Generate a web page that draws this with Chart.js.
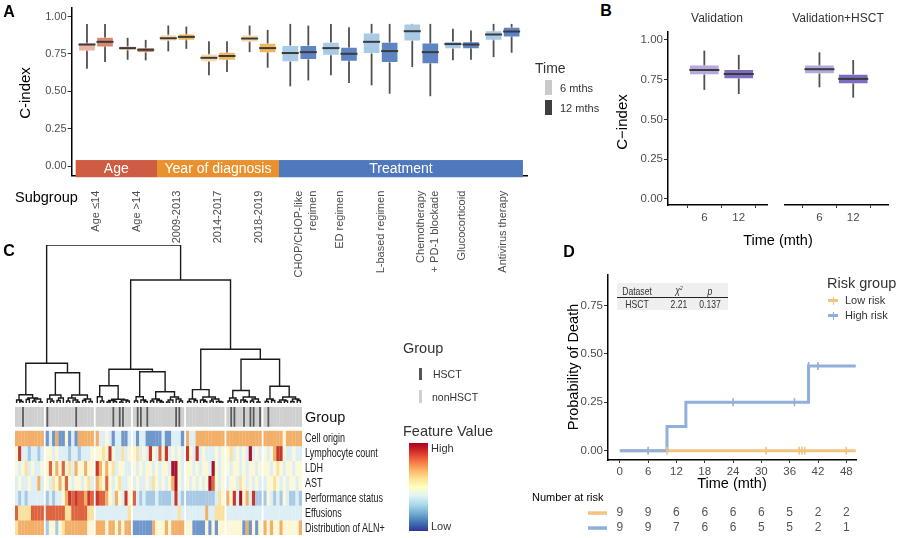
<!DOCTYPE html>
<html><head><meta charset="utf-8">
<script src="https://cdn.jsdelivr.net/npm/chart.js@4/dist/chart.umd.min.js"></script>
<style>
body{margin:0;background:#fff;}
#wrap{position:relative;width:900px;height:538px;overflow:hidden;font-family:"Liberation Sans",Arial,sans-serif;color:#222;background:#fff;}
canvas{position:absolute;}
.t{position:absolute;white-space:nowrap;line-height:1;}
.c{transform:translate(-50%,-50%);}
.l{transform:translate(0,-50%);}
.r90{transform:translate(-50%,-50%) rotate(-90deg);}
.box{position:absolute;}
.let{font-weight:bold;font-size:16px;color:#000;}
.hl{font-size:12px;color:#222;transform-origin:0 50%;transform:translate(0,-50%) scaleX(0.75);}
.tb{font-size:10.5px;color:#333;transform:translate(-50%,-50%) scaleX(0.82);}
</style></head>
<body><div id="wrap">
<canvas id="cA" width="530" height="280" style="left:0;top:0"></canvas>
<canvas id="cB1" width="170" height="210" style="left:600px;top:20px"></canvas>
<canvas id="cB2" width="120" height="210" style="left:775px;top:20px"></canvas>
<canvas id="cDen" width="397" height="162" style="left:15px;top:243px"></canvas>
<canvas id="cHeat" width="397" height="128" style="left:15px;top:407px"></canvas>
<canvas id="cD" width="380" height="298" style="left:520px;top:240px"></canvas>

<!-- panel letters -->
<div class="t c let" style="left:9px;top:12px">A</div>
<div class="t c let" style="left:606px;top:11px">B</div>
<div class="t c let" style="left:9px;top:251px">C</div>
<div class="t c let" style="left:569px;top:252px">D</div>

<!-- A texts -->
<div class="t r90" style="left:24px;top:93px;font-size:15px;color:#000">C-index</div>
<div class="t l" style="left:15px;top:197px;font-size:14.5px;color:#000">Subgroup</div>
<div class="t l" style="left:535px;top:68px;font-size:14px;color:#333">Time</div>
<div class="box" style="left:545px;top:80px;width:7px;height:15px;background:#C9C9C9"></div>
<div class="box" style="left:545px;top:100px;width:7px;height:15px;background:#3F3F3F"></div>
<div class="t l" style="left:560px;top:88px;font-size:11px;color:#333">6 mths</div>
<div class="t l" style="left:560px;top:108px;font-size:11px;color:#333">12 mths</div>

<!-- B texts -->
<div class="t c" style="left:717px;top:18px;font-size:12px;color:#333">Validation</div>
<div class="t c" style="left:838px;top:18px;font-size:12px;color:#333">Validation+HSCT</div>
<div class="t r90" style="left:621px;top:122px;font-size:15px;color:#000">C−index</div>
<div class="t c" style="left:778px;top:240px;font-size:14.5px;color:#000">Time (mth)</div>

<!-- C legends -->
<div class="t l" style="left:305px;top:417px;font-size:14.5px;color:#111">Group</div>
<div class="t l" style="left:403px;top:348px;font-size:14.5px;color:#333">Group</div>
<div class="box" style="left:419px;top:368px;width:3px;height:12px;background:#555"></div>
<div class="t l" style="left:433px;top:374px;font-size:10.5px;color:#333">HSCT</div>
<div class="box" style="left:419px;top:390px;width:3px;height:13px;background:#D0D0D0"></div>
<div class="t l" style="left:432px;top:397px;font-size:10.5px;color:#333">nonHSCT</div>
<div class="t l" style="left:403px;top:431px;font-size:14.5px;color:#333">Feature Value</div>
<div class="box" style="left:409px;top:443px;width:19px;height:88px;background:linear-gradient(to bottom,#A50026,#D73027,#F46D43,#FDAE61,#FEE090,#FFFFBF,#E0F3F8,#ABD9E9,#74ADD1,#4575B4,#313695)"></div>
<div class="t l" style="left:431px;top:448px;font-size:11px;color:#333">High</div>
<div class="t l" style="left:431px;top:526px;font-size:11px;color:#333">Low</div>

<!-- D texts -->
<div class="t r90" style="left:573px;top:367px;font-size:14.5px;color:#000">Probability of Death</div>
<div class="t c" style="left:732px;top:483px;font-size:14.5px;color:#000">Time (mth)</div>
<div class="t l" style="left:532px;top:497px;font-size:11px;color:#000">Number at risk</div>
<div class="t l" style="left:827px;top:283px;font-size:14.5px;color:#333">Risk group</div>
<div class="box" style="left:828px;top:299px;width:10px;height:2.5px;background:#F3C47D"></div>
<div class="box" style="left:832.5px;top:296.5px;width:1.2px;height:8px;background:#F3C47D"></div>
<div class="t l" style="left:845px;top:300px;font-size:11px;color:#333">Low risk</div>
<div class="box" style="left:828px;top:314px;width:10px;height:2.5px;background:#8FB0DC"></div>
<div class="box" style="left:832.5px;top:311.5px;width:1.2px;height:8px;background:#8FB0DC"></div>
<div class="t l" style="left:845px;top:315px;font-size:11px;color:#333">High risk</div>
<div class="box" style="left:617px;top:283px;width:111px;height:27px;background:#EFEFEF"></div>
<div class="box" style="left:617px;top:297px;width:111px;height:1px;background:#222"></div>
<div class="t tb" style="left:637px;top:290.5px">Dataset</div>
<div class="t tb" style="left:679px;top:290px;font-style:italic">χ<sup style="font-size:6px">2</sup></div>
<div class="t tb" style="left:710px;top:290.5px;font-style:italic">p</div>
<div class="t tb" style="left:637px;top:304px">HSCT</div>
<div class="t tb" style="left:679px;top:304px">2.21</div>
<div class="t tb" style="left:710px;top:304px">0.137</div>
</div>
<script>
// ---------------- DATA ----------------
// Panel A
const subgroups = [['Age ≤14'],['Age >14'],['2009-2013'],['2014-2017'],['2018-2019'],['CHOP/CHOP-like','regimen'],['ED regimen'],['L-based regimen'],['Chemotherapy','+ PD-1 blockade'],['Glucocorticoid'],['Antivirus therapy']];
const subgroupType = ['age','age','year','year','year','trt','trt','trt','trt','trt','trt'];
const stripLabels = ['Age','Year of diagnosis','Treatment'];
const stripFirst = [1,3,6];
const stripLast = [2,5,11];
const cTicks = [0,0.25,0.5,0.75,1];
const min6 = [0.651,0.711,0.767,0.607,0.762,0.533,0.607,0.540,0.662,0.707,0.729];
const q1_6 = [0.769,0.773,0.835,0.696,0.829,0.696,0.740,0.751,0.835,0.784,0.840];
const med6 = [0.813,0.789,0.855,0.724,0.853,0.756,0.789,0.831,0.902,0.816,0.880];
const q3_6 = [0.824,0.802,0.880,0.751,0.878,0.807,0.829,0.891,0.951,0.835,0.907];
const max6 = [0.951,0.858,0.940,0.835,0.940,0.951,0.951,0.951,0.951,0.918,0.951];
const min12 = [0.696,0.707,0.784,0.629,0.658,0.573,0.555,0.484,0.467,0.711,0.758];
const q1_12 = [0.796,0.758,0.840,0.707,0.756,0.711,0.700,0.691,0.684,0.784,0.862];
const med12 = [0.831,0.778,0.864,0.736,0.789,0.762,0.751,0.769,0.762,0.813,0.900];
const q3_12 = [0.862,0.793,0.884,0.762,0.822,0.807,0.796,0.829,0.824,0.833,0.929];
const max12 = [0.951,0.844,0.933,0.835,0.911,0.940,0.929,0.951,0.951,0.907,0.951];

// Panel B
const timeLabels = ['6','12'];
const valMin = [0.686,0.660], valQ1 = [0.780,0.755], valMed = [0.811,0.786], valQ3 = [0.843,0.816], valMax = [0.933,0.906];
const vhMin = [0.702,0.637], vhQ1 = [0.786,0.723], vhMed = [0.816,0.755], vhQ3 = [0.843,0.786], vhMax = [0.922,0.874];

// Panel C
const clusterSizes = [9,15,11,16,12,11,12];
const featureNames = ['Cell origin','Lymphocyte count','LDH','AST','Performance status','Effusions','Distribution of ALN+'];
const cellOrigin = [7,7,7,7,7,7,7,7,7,
 2,4,2,7,2,2,5,2,4,2,7,7,7,7,7,
 7,4,4,5,4,2,4,4,2,2,4,
 4,2,4,4,2,2,2,2,2,4,2,2,4,4,4,2,
 7,4,4,7,7,7,7,7,7,7,7,7,
 7,7,7,7,7,7,7,7,7,7,7,
 7,7,7,7,7,7,5,7,7,7,7,7];
const lymphocyte = [5,9,4,4,3,4,4,3,4,
 5,5,4,5,4,4,4,3,4,4,3,4,4,4,5,
 5,5,6,5,9,5,4,4,6,4,5,
 5,6,4,5,4,9,5,4,8,5,9,4,5,4,5,4,
 9,5,4,9,4,5,4,4,4,5,4,5,
 5,6,4,5,4,5,4,10,4,5,4,
 5,4,5,7,9,9,5,4,4,5,4,4];
const ldh = [5,4,5,6,4,5,4,4,5,
 5,8,5,7,5,8,5,6,4,7,5,5,7,5,5,
 9,7,5,7,5,6,4,5,5,4,4,
 5,4,5,4,5,5,4,5,4,5,5,4,10,10,5,4,
 5,5,4,5,4,5,5,4,10,5,4,5,
 5,4,5,5,4,5,4,5,5,4,5,
 5,5,4,5,6,5,4,5,5,4,5,5];
const ast = [4,5,4,4,5,4,4,7,4,
 5,4,6,5,7,5,8,5,4,5,5,4,5,6,4,
 7,6,5,8,5,4,5,6,4,4,5,
 4,5,4,4,5,4,6,5,4,5,4,5,7,10,5,4,
 5,4,5,4,5,4,5,10,8,5,4,5,
 4,5,5,4,6,5,4,5,4,5,4,
 4,5,5,6,5,4,5,4,5,5,4,5];
const performance = [4,3,4,3,4,4,4,4,4,
 3,4,3,4,4,5,7,9,8,9,8,8,7,9,8,
 9,8,8,7,5,4,7,5,4,9,5,
 8,4,3,4,3,3,3,4,3,3,3,3,4,9,4,3,
 3,3,3,3,3,3,3,3,3,4,6,5,
 7,5,9,4,10,5,7,4,9,3,3,
 3,5,4,3,4,3,5,4,3,3,4,3];
const effusions = [8,6,6,6,6,8,8,8,8,
 8,8,8,8,8,8,6,6,8,8,8,8,8,6,6,
 4,4,4,4,4,4,4,4,4,4,6,
 4,4,4,4,4,4,4,4,4,4,4,4,4,4,6,4,
 4,4,4,4,4,4,7,4,4,6,6,6,
 4,4,4,4,4,4,4,4,4,4,4,
 4,4,4,4,4,4,4,4,4,4,4,4];
const alnDistribution = [6,7,7,7,7,7,7,7,7,
 3,5,5,3,5,6,7,7,7,7,7,7,7,5,5,
 7,7,7,5,7,7,5,7,5,7,7,
 2,2,2,2,2,2,7,5,5,5,7,5,7,7,7,7,
 5,5,2,2,2,2,5,2,5,2,5,5,
 5,5,5,5,5,2,7,2,5,2,5,
 7,5,7,5,5,7,5,5,5,5,5,7];
const groupHSCT = [0,0,1,0,0,0,0,0,0,
 1,0,0,0,0,0,0,0,0,1,0,0,0,0,0,
 0,0,0,0,0,1,0,1,1,0,0,
 0,1,1,0,1,0,0,0,0,0,0,0,0,1,1,0,
 0,0,0,0,0,0,0,0,0,0,0,0,
 0,1,1,0,0,1,0,1,1,0,1,
 0,1,0,0,0,0,0,0,0,0,0,0];
// dendrogram: [mergeHeight, left, right], 0 = leaf
const dendroTree = [158,
  [39.7,
    [8.3, [3,0,[1.5,0,0]], [5,[3.5,0,0],[4,[2,0,0],[1,0,0]]]],
    [30.3, [8,[4,0,[2,0,0]],[5,[2.5,0,0],0]], [8,[5,[2,0,0],[3,0,[1,0,0]]],[4,[2.5,0,0],[1.5,0,0]]]]],
  [123,
    [33.7,
      [17.2, [6.3,0,[2,0,0]], [3.7,[2.5,[1,0,0],[1.5,0,0]],[3,[1,0,0],[2,0,0]]]],
      [31.3, [6.3,[2,0,0],[3,0,[1.5,0,0]]], [11.3,[4,[2,0,0],[2.5,0,[1,0,0]]],[6,[3,[1,0,0],0],[4,0,[2,0,0]]]]]],
    [53.7,
      [13.4, [4,[1.5,0,0],[2.5,0,0]], [6,[3,0,[1.5,0,0]],[4,[2,0,0],[1.5,0,[1,0,0]]]]],
      [43.7,
        [12.5, [5,[2,0,0],[3,0,0]], [6,[3,0,[1.5,0,0]],[4,[2,0,0],[1,0,0]]]],
        [16.7, [4,[1.5,0,0],[2.5,0,0]], [6,[3,[1,0,0],[2,0,0]],[4,[1.5,0,0],[2.5,0,0]]]]]]]];

// Panel D
const kmHighT = [0,10,14,40,50], kmHighS = [0,0.125,0.25,0.4375,0.4375];
const kmLowT = [0,50], kmLowS = [0,0];
const censorHighT = [6,24,37,40,42], censorHighS = [0,0.25,0.25,0.4375,0.4375];
const censorLowT = [10,31,38,38.6,39.2,48], censorLowS = [0,0,0,0,0,0];
const riskTimes = [0,6,12,18,24,30,36,42,48];
const riskLow = [9,9,6,6,6,6,5,2,2];
const riskHigh = [9,9,7,6,6,5,5,2,1];
const probTicks = [0,0.25,0.5,0.75];

// ---------------- STYLE ----------------
Chart.defaults.animation = false;
Chart.defaults.font.family = '"Liberation Sans", Arial, sans-serif';
Chart.defaults.color = '#4d4d4d';
Chart.defaults.plugins.legend.display = false;
Chart.defaults.plugins.tooltip.enabled = false;
const col6 = {age:'#EBB3A2', year:'#F9DAA8', trt:'#A8CAE6'};
const col12 = {age:'#DA8670', year:'#F1B75C', trt:'#5E84C4'};
const stripColors = ['#CD5C42','#E8912F','#5078BD'];
const heatPalette = ['#313695','#4575B4','#6F97CC','#A8C9E4','#DDEFF5','#FCF8D6','#FBE1A0','#F2AF69','#DE6440','#C8372C','#A5142D'];
const tickFont = {size:11};

const boxPlugin = {
  id:'boxWhisker',
  beforeDatasetsDraw(chart){
    const ctx = chart.ctx, ys = chart.scales.y;
    chart.data.datasets.forEach((ds,i)=>{
      if(!ds.whisk) return;
      chart.getDatasetMeta(i).data.forEach((el,j)=>{
        ctx.save(); ctx.strokeStyle='#505050'; ctx.lineWidth=1.8;
        ctx.beginPath(); ctx.moveTo(el.x, ys.getPixelForValue(ds.whisk.lo[j])); ctx.lineTo(el.x, ys.getPixelForValue(ds.whisk.hi[j])); ctx.stroke(); ctx.restore();
      });
    });
  },
  afterDatasetsDraw(chart){
    const ctx = chart.ctx, ys = chart.scales.y;
    chart.data.datasets.forEach((ds,i)=>{
      if(!ds.whisk) return;
      chart.getDatasetMeta(i).data.forEach((el,j)=>{
        const ym = ys.getPixelForValue(ds.whisk.med[j]);
        ctx.save(); ctx.strokeStyle='#3a3a3a'; ctx.lineWidth=2;
        ctx.beginPath(); ctx.moveTo(el.x-el.width/2, ym); ctx.lineTo(el.x+el.width/2, ym); ctx.stroke(); ctx.restore();
      });
    });
  }
};
const stripPlugin = {
  id:'strip',
  beforeDatasetsDraw(chart){
    const {ctx, chartArea} = chart, xs = chart.scales.x, ys = chart.scales.y;
    stripLabels.forEach((lab,k)=>{
      const x0 = xs.getPixelForValue(stripFirst[k]-0.5), x1 = xs.getPixelForValue(stripLast[k]+0.5);
      const y0 = ys.getPixelForValue(0.04), y1 = chartArea.bottom+1.5;
      ctx.save(); ctx.fillStyle = stripColors[k]; ctx.fillRect(x0,y0,x1-x0,y1-y0);
      ctx.fillStyle='#fff'; ctx.font='14px "Liberation Sans", Arial, sans-serif'; ctx.textAlign='center'; ctx.textBaseline='middle';
      ctx.fillText(lab,(x0+x1)/2,(y0+y1)/2+0.5); ctx.restore();
    });
  }
};

// ---------------- PANEL A ----------------
new Chart(document.getElementById('cA'), {
  type:'bar',
  data:{datasets:[
    {data: subgroups.map((s,i)=>({x:i+1-0.222, y:[q1_6[i],q3_6[i]]})), backgroundColor: subgroupType.map(t=>col6[t]),
     borderColor:'rgba(255,255,255,0.45)', borderWidth:1, borderSkipped:false, barThickness:17, grouped:false,
     whisk:{lo:min6, hi:max6, med:med6}},
    {data: subgroups.map((s,i)=>({x:i+1+0.222, y:[q1_12[i],q3_12[i]]})), backgroundColor: subgroupType.map(t=>col12[t]),
     borderColor:'rgba(255,255,255,0.35)', borderWidth:1, borderSkipped:false, barThickness:17, grouped:false,
     whisk:{lo:min12, hi:max12, med:med12}}
  ]},
  options:{responsive:false, layout:{padding:{top:7,right:3,left:0,bottom:0}},
    scales:{
      x:{type:'linear', offset:false, min:0.4, max:11.6,
         afterBuildTicks:s=>{s.ticks = subgroups.map((_,i)=>({value:i+1}));},
         afterFit:s=>{s.height = 104.25;},
         grid:{display:false}, border:{display:true,color:'#000',width:1.5},
         ticks:{autoSkip:false, minRotation:90, maxRotation:90, padding:7, font:tickFont, color:'#4d4d4d', callback:(v,i)=>subgroups[i]}},
      y:{min:-0.065, max:1.06,
         afterBuildTicks:s=>{s.ticks = cTicks.map(v=>({value:v}));},
         afterFit:s=>{s.width = 71.6;},
         grid:{display:true, drawOnChartArea:false, tickLength:4, color:'#333'}, border:{color:'#000',width:1.5},
         ticks:{font:tickFont, color:'#4d4d4d', padding:1, callback:v=>v.toFixed(2)}}
    }},
  plugins:[stripPlugin, boxPlugin]
});

// ---------------- PANEL B ----------------
function facet(id, mn, q1, md, q3, mx, xmin, xmax, showY, pad){
  new Chart(document.getElementById(id), {
    type:'bar',
    data:{datasets:[{data: timeLabels.map((t,i)=>({x:i+1, y:[q1[i],q3[i]]})), backgroundColor:['#B4A8DC','#7E6CC3'],
      borderColor:'rgba(255,255,255,0.4)', borderWidth:1, borderSkipped:false, barThickness:30, grouped:false,
      whisk:{lo:mn, hi:mx, med:md}}]},
    options:{responsive:false, layout:{padding:pad},
      scales:{
        x:{type:'linear', offset:false, min:xmin, max:xmax,
           afterBuildTicks:s=>{s.ticks = timeLabels.map((_,i)=>({value:i+1}));},
           afterFit:s=>{s.height = 25;},
           grid:{display:true, drawOnChartArea:false, tickLength:3, color:'#333'}, border:{color:'#000',width:1.5},
           ticks:{autoSkip:false, maxRotation:0, padding:3, font:{size:11.5}, color:'#4d4d4d', callback:(v,i)=>timeLabels[i]}},
        y:{display:showY, min:-0.038, max:1.05,
           afterBuildTicks:s=>{s.ticks = cTicks.map(v=>({value:v}));},
           afterFit:s=>{ s.width = showY ? 68 : 0; },
           grid:{display:true, drawOnChartArea:false, tickLength:4, color:'#333'}, border:{color:'#000',width:1.5},
           ticks:{font:{size:11.5}, color:'#4d4d4d', padding:1, callback:v=>v.toFixed(2)}}
      }},
    plugins:[boxPlugin]
  });
}
facet('cB1', valMin, valQ1, valMed, valQ3, valMax, -0.055, 2.82, true, {top:12,right:3,left:0,bottom:0});
facet('cB2', vhMin, vhQ1, vhMed, vhQ3, vhMax, -0.02, 3.03, false, {top:12,right:7,left:10,bottom:0});

// ---------------- PANEL C ----------------
const gapUnits = 0.6;
const colPos = [];
(function(){ let c = 0; clusterSizes.forEach((n,k)=>{ for(let i=0;i<n;i++){ colPos.push(c + k*gapUnits); c++; } }); })();
const xMax = colPos[colPos.length-1] + 0.5;

const dendroSegs = [];
let leafCounter = 0;
function layoutNode(node){
  if(node === 0){ return {x: colPos[leafCounter++], h:0}; }
  const a = layoutNode(node[1]), b = layoutNode(node[2]);
  dendroSegs.push({x:a.x,y:a.h},{x:a.x,y:node[0]},{x:b.x,y:node[0]},{x:b.x,y:b.h},{x:b.x,y:null});
  return {x:(a.x+b.x)/2, h:node[0]};
}
layoutNode(dendroTree);

new Chart(document.getElementById('cDen'), {
  type:'scatter',
  data:{datasets:[{data:dendroSegs, showLine:true, spanGaps:false, pointRadius:0, borderColor:'#1a1a1a', borderWidth:1.4}]},
  options:{responsive:false, layout:{padding:{top:2,bottom:2,left:0,right:110}},
    scales:{x:{type:'linear', offset:false, min:-0.5, max:xMax, display:false}, y:{min:0, max:158, display:false}}}
});

const featureRows = [cellOrigin, lymphocyte, ldh, ast, performance, effusions, alnDistribution];
const heatSets = featureRows.map((vals,r)=>({
  data: vals.map((v,i)=>({x:colPos[i], y:[6-r-0.02, 7-r+0.02]})),
  backgroundColor: vals.map(v=>heatPalette[v]), borderWidth:0, grouped:false, barPercentage:1.06, categoryPercentage:1
}));
heatSets.push({data: colPos.map(x=>({x, y:[7.29, 8.62]})), backgroundColor:'#CFCFCF', borderWidth:0, grouped:false, barPercentage:1.06, categoryPercentage:1});
heatSets.unshift({data: colPos.filter((x,i)=>groupHSCT[i]===1).map(x=>({x, y:[7.29, 8.62]})), backgroundColor:'#5a5a5a', borderWidth:0, grouped:false, barPercentage:0.55, categoryPercentage:1});
const heat = new Chart(document.getElementById('cHeat'), {
  type:'bar',
  data:{datasets:heatSets},
  options:{responsive:false, layout:{padding:{left:0,top:0,bottom:0,right:110}},
    scales:{
      x:{type:'linear', offset:false, min:-0.5, max:xMax, display:false},
      y:{min:0, max:8.62, display:false}
    }}
});
// row labels placed from the heatmap's own y scale
(function(){
  const wrap = document.getElementById('wrap'), ys = heat.scales.y, right = heat.chartArea.right;
  featureNames.forEach((n,r)=>{
    const d = document.createElement('div'); d.className = 't hl'; d.textContent = n;
    d.style.left = (15 + right + 3) + 'px'; d.style.top = (407 + ys.getPixelForValue(6.5-r)) + 'px';
    wrap.appendChild(d);
  });
})();

// ---------------- PANEL D ----------------
const lowCol = '#F3C47D', highCol = '#8FB0DC';
const riskPlugin = {
  id:'riskTable',
  afterDraw(chart){
    const ctx = chart.ctx, xs = chart.scales.x;
    ctx.save();
    ctx.fillStyle = lowCol; ctx.fillRect(68,271.3,19,3.5);
    ctx.fillStyle = highCol; ctx.fillRect(68,286.3,19,3.5);
    ctx.font = '12px "Liberation Sans", Arial, sans-serif'; ctx.fillStyle = '#555'; ctx.textAlign='center'; ctx.textBaseline='middle';
    riskTimes.forEach((t,i)=>{ const px = xs.getPixelForValue(t); ctx.fillText(String(riskLow[i]), px, 273); ctx.fillText(String(riskHigh[i]), px, 288); });
    ctx.restore();
  }
};
new Chart(document.getElementById('cD'), {
  type:'line',
  data:{datasets:[
    {data: kmHighT.map((t,i)=>({x:t, y:kmHighS[i]})), stepped:true, borderColor:highCol, borderWidth:3, pointRadius:0, order:1},
    {data: kmLowT.map((t,i)=>({x:t, y:kmLowS[i]})), stepped:true, borderColor:lowCol, borderWidth:3, pointRadius:0, order:2},
    {type:'scatter', data: censorHighT.map((t,i)=>({x:t, y:censorHighS[i]})), showLine:false, pointStyle:'line', pointRotation:90, pointRadius:4,
     pointBorderColor:highCol, pointBorderWidth:1.6, borderColor:highCol, order:0},
    {type:'scatter', data: censorLowT.map((t,i)=>({x:t, y:censorLowS[i]})), showLine:false, pointStyle:'line', pointRotation:90, pointRadius:4,
     pointBorderColor:lowCol, pointBorderWidth:1.6, borderColor:lowCol, order:0}
  ]},
  options:{responsive:false, layout:{padding:{top:35,right:43.3,left:0,bottom:0}},
    scales:{
      x:{type:'linear', min:-2.5, max:50.2,
         afterBuildTicks:s=>{s.ticks = riskTimes.map(v=>({value:v}));},
         afterFit:s=>{s.height = 78;},
         grid:{display:true, drawOnChartArea:false, tickLength:3, color:'#333'}, border:{color:'#000',width:1.5},
         ticks:{autoSkip:false, maxRotation:0, padding:2, font:{size:11.5}, color:'#4d4d4d'}},
      y:{min:-0.048, max:0.907,
         afterBuildTicks:s=>{s.ticks = probTicks.map(v=>({value:v}));},
         afterFit:s=>{s.width = 88;},
         grid:{display:true, drawOnChartArea:false, tickLength:4, color:'#333'}, border:{color:'#000',width:1.5},
         ticks:{font:{size:11.5}, color:'#4d4d4d', padding:1, callback:v=>v.toFixed(2)}}
    }},
  plugins:[riskPlugin]
});
</script>
</body></html>
